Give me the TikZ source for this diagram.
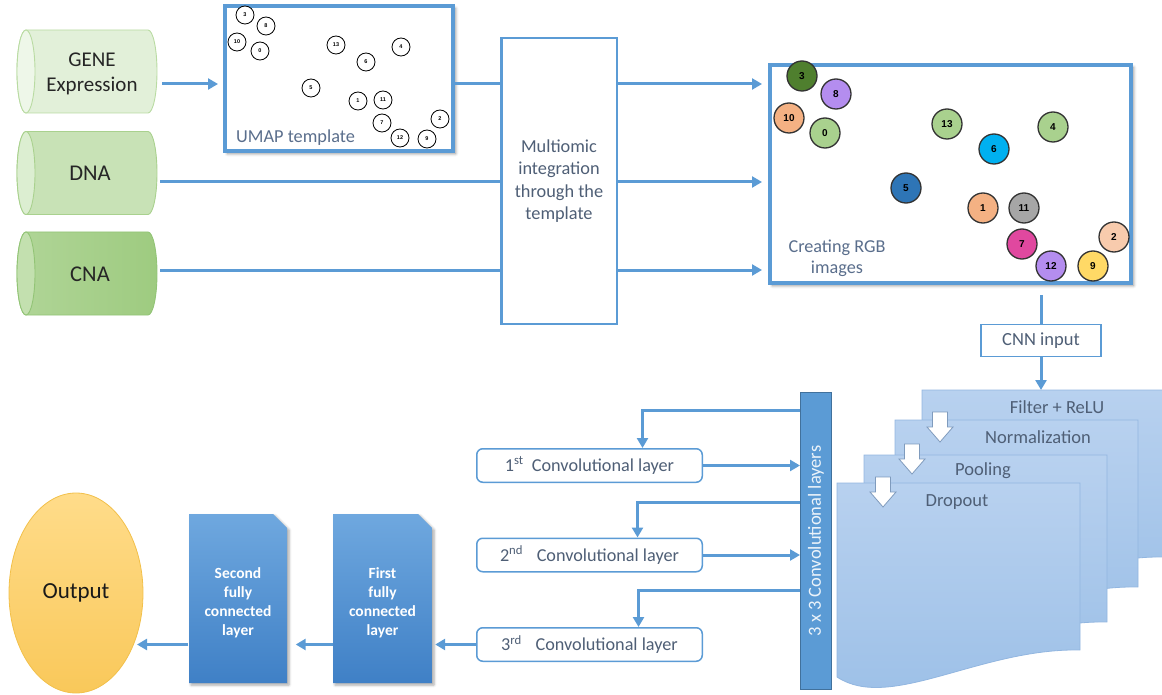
\documentclass[tikz,border=0pt]{standalone}
\usepackage{fontspec}
\setmainfont{Carlito}
\newfontfamily\numfont{Liberation Sans}
\usetikzlibrary{shapes.geometric,arrows.meta,shadows.blur,calc}

\definecolor{lineblue}{HTML}{5B9BD5}
\definecolor{barborder}{HTML}{41719C}
\definecolor{slate}{HTML}{4F5F76}
\definecolor{softslate}{HTML}{5A6E8C}
\definecolor{geneBody}{HTML}{E2F0D9}
\definecolor{geneCap}{HTML}{EEF7E9}
\definecolor{geneEdge}{HTML}{B9DBA2}
\definecolor{dnaBody}{HTML}{C8E2B6}
\definecolor{dnaCap}{HTML}{DCEED1}
\definecolor{dnaEdge}{HTML}{A9D18E}
\definecolor{cnaBodyL}{HTML}{B0D597}
\definecolor{cnaBodyR}{HTML}{9ECB80}
\definecolor{cnaCap}{HTML}{C3E0AF}
\definecolor{cnaEdge}{HTML}{92C476}
\definecolor{sheetTop}{HTML}{B8D1EF}
\definecolor{sheetBot}{HTML}{9BBFE7}
\definecolor{sheetEdge}{HTML}{92B6E0}
\definecolor{arrowEdge}{HTML}{7F9BBD}
\definecolor{fcTop}{HTML}{6FA8DF}
\definecolor{fcBot}{HTML}{3F80C6}
\definecolor{outTop}{HTML}{FFDC8A}
\definecolor{outBot}{HTML}{F9C85A}
\definecolor{outEdge}{HTML}{F2C04A}
\definecolor{dotEdge}{HTML}{333333}
\definecolor{dkgreen}{HTML}{4F7F2E}
\definecolor{lav}{HTML}{B48DEF}
\definecolor{peach}{HTML}{F4B183}
\definecolor{lgreen}{HTML}{A9D18E}
\definecolor{cyanb}{HTML}{00B0F0}
\definecolor{dblue}{HTML}{2E75B6}
\definecolor{midgray}{HTML}{A6A6A6}
\definecolor{magentab}{HTML}{E0489F}
\definecolor{yellowb}{HTML}{FFD966}
\definecolor{lpeach}{HTML}{F8CBAD}

% horizontal can: #1 left x, #2 right x, #3 top y, #4 bottom y, #5 body style, #6 cap style
\newcommand\drawcan[6]{%
  \pgfmathsetmacro\canL{#1+9}\pgfmathsetmacro\canR{#2-9}%
  \pgfmathsetmacro\canM{(#3+#4)/2}\pgfmathsetmacro\canK{0.552*(#4-#3)/2}%
  \pgfmathsetmacro\canRad{(#4-#3)/2}%
  \path[#5] (\canL,#3) -- (\canR,#3)
    .. controls (\canR+4.97,#3) and (#2,\canM-\canK) .. (#2,\canM)
    .. controls (#2,\canM+\canK) and (\canR+4.97,#4) .. (\canR,#4)
    -- (\canL,#4)
    .. controls (\canL-4.97,#4) and (#1,\canM+\canK) .. (#1,\canM)
    .. controls (#1,\canM-\canK) and (\canL-4.97,#3) .. (\canL,#3) -- cycle;
  \path[#6] (\canL,\canM) ellipse [x radius=9, y radius=\canRad];
}

\begin{document}
\begin{tikzpicture}[x=1pt,y=-1pt,
  conn/.style={draw=lineblue, line width=3pt},
  arr/.style={conn, -{Triangle[length=10pt,width=11pt]}},
  frame/.style={draw=lineblue, line width=4pt, fill=white, inner sep=0pt,
    blur shadow={shadow xshift=2.5pt, shadow yshift=-2.5pt, shadow blur radius=3pt, shadow opacity=45}},
  plainbox/.style={draw=lineblue, fill=white, inner sep=0pt},
  cantext/.style={align=center, text=black!85, inner sep=0pt, minimum width=140pt, minimum height=83pt},
  umapdot/.style={circle, draw=black, line width=0.8pt, fill=white, minimum size=18pt, inner sep=0pt,
    font=\numfont\bfseries\fontsize{5.5}{6}\selectfont},
  rgbdot/.style={circle, draw=dotEdge, line width=1.3pt, minimum size=30pt, inner sep=0pt,
    font=\numfont\bfseries\fontsize{10}{12}\selectfont},
  convbox/.style={draw=lineblue, line width=1.5pt, rounded corners=6pt, fill=white,
    minimum width=225.5pt, minimum height=33.5pt, inner sep=0pt, text=slate,
    font=\fontsize{18.2}{21}\selectfont},
  sheet/.style={top color=sheetTop, bottom color=sheetBot, draw=sheetEdge, line width=0.8pt},
  sheettext/.style={text=slate, font=\fontsize{18.5}{21}\selectfont, inner sep=0pt},
  blockarrow/.style={fill=white, draw=arrowEdge, line width=0.8pt, line join=miter},
  fcshape/.style={top color=fcTop, bottom color=fcBot,
    blur shadow={shadow xshift=2pt, shadow yshift=-2pt, shadow blur radius=2.5pt, shadow opacity=35}},
  fctext/.style={align=center, text=white, inner sep=0pt, minimum width=99pt, minimum height=169pt,
    font=\bfseries\fontsize{15.5}{19}\selectfont}
]
\useasboundingbox (0,0) rectangle (1162,695);

% ---------- input data cans ----------
\drawcan{17}{157}{30}{113}{fill=geneBody, draw=geneEdge, line width=0.9pt}{fill=geneCap, draw=geneEdge, line width=0.9pt}
\drawcan{17}{157}{131.5}{214.5}{fill=dnaBody, draw=dnaEdge, line width=0.9pt}{fill=dnaCap, draw=dnaEdge, line width=0.9pt}
\drawcan{17}{157}{232}{315}{left color=cnaBodyL, right color=cnaBodyR, draw=cnaEdge, line width=0.9pt}{fill=cnaCap, draw=cnaEdge, line width=0.9pt}

\node[cantext, font=\fontsize{21}{25}\selectfont] (gene) at (92,73.5) {GENE\\Expression};
\node[cantext, font=\fontsize{22.5}{26}\selectfont] (dna) at (90,173) {DNA};
\node[cantext, font=\fontsize{22.5}{26}\selectfont] (cna) at (90,274) {CNA};

% ---------- UMAP template ----------
\node[frame, minimum width=228pt, minimum height=145pt] (umap) at (339,78.5) {};
\node[anchor=west, text=softslate, inner sep=0pt, font=\fontsize{18.3}{21}\selectfont] (umaplabel) at (236,138) {UMAP template};
\foreach \n/\px/\py in {3/245/15, 8/266/26, 10/237/42, 0/260/51, 13/336/45, 6/366/62, 4/401/47,
    5/311/88, 1/358/101, 11/383/100, 7/382/123, 12/400/138, 9/427/139, 2/440/119}
  \node[umapdot] (u\n) at (\px,\py) {\n};

% ---------- integration ----------
\node[plainbox, line width=2.5pt, minimum width=115.5pt, minimum height=285.5pt,
  align=center, text=slate, font=\fontsize{18.3}{22.5}\selectfont] (multi) at (559,181)
  {Multiomic\\integration\\through the\\template};

% ---------- RGB images ----------
\node[frame, minimum width=361pt, minimum height=218pt] (rgb) at (950.5,174) {};
\node[align=center, text=softslate, inner sep=0pt, font=\fontsize{18.2}{21}\selectfont] (rgblabel) at (837,258) {Creating RGB\\images};
\foreach \n/\px/\py/\c in {3/802/76/dkgreen, 8/836/94/lav, 10/789/118/peach, 0/825/133/lgreen,
    13/947/124/lgreen, 6/994/149/cyanb, 4/1053/127/lgreen, 5/906/188/dblue, 1/983/208/peach,
    11/1024/208/midgray, 7/1022/244/magentab, 12/1051/266/lav, 9/1093/266/yellowb, 2/1114/237/lpeach}
  \node[rgbdot, fill=\c] (g\n) at (\px,\py) {\n};

% ---------- upper connectors ----------
\coordinate (rowA) at (0,84);
\coordinate (rowB) at (0,182);
\coordinate (rowC) at (0,270);
\draw[arr, shorten >=5pt] (gene.east |- rowA) -- (umap.west |- rowA);
\draw[conn] (umap.east |- rowA) -- (multi.west |- rowA);
\draw[conn] (dna.east |- rowB) -- (multi.west |- rowB);
\draw[conn] (cna.east |- rowC) -- (multi.west |- rowC);
\foreach \r in {rowA,rowB,rowC}
  \draw[arr, shorten >=6pt] (multi.east |- \r) -- (rgb.west |- \r);

% ---------- CNN input ----------
\node[plainbox, line width=1.3pt, minimum width=120pt, minimum height=32pt, text=slate,
  font=\fontsize{18.5}{21}\selectfont] (cnn) at (1041,340.5) {CNN input};
\draw[conn, shorten <=10pt] (cnn.north |- rgb.south) -- (cnn.north);
\coordinate (filtertop) at (1041,390);
\draw[arr] (cnn.south) -- (filtertop);

% ---------- stacked processing sheets ----------
\foreach \sx/\sy in {922/390, 895/420, 864/455, 837/483}
  \path[sheet] (\sx,\sy) -- (\sx+243,\sy) -- (\sx+243,\sy+167)
    .. controls (\sx+143,\sy+165) and (\sx+53,\sy+229) .. (\sx,\sy+194) -- cycle;
\node[sheettext] (sfilter) at (1057,407) {Filter + ReLU};
\node[sheettext] (snorm) at (1038,437) {Normalization};
\node[sheettext] (spool) at (983,471) {Pooling};
\node[sheettext] (sdrop) at (957,502) {Dropout};
\foreach \cx/\ty in {940/412, 912/444, 883/477}
  \path[blockarrow] (\cx-7.5,\ty) -- (\cx+7.5,\ty) -- (\cx+7.5,\ty+15) -- (\cx+13,\ty+15)
    -- (\cx,\ty+30) -- (\cx-13,\ty+15) -- (\cx-7.5,\ty+15) -- cycle;

% ---------- convolution block ----------
\node[fill=lineblue, draw=barborder, line width=1pt, minimum width=31pt, minimum height=297pt, inner sep=0pt] (bar) at (816,541) {};
\node[rotate=90, text=white!88!lineblue, inner sep=0pt, font=\fontsize{18.5}{21}\selectfont] (bartext) at (bar.center) {3 x 3 Convolutional layers};

\node[convbox] (c1) at (589.5,465.5) {1\textsuperscript{st}\hspace{0.45em}Convolutional layer};
\node[convbox] (c2) at (589.5,555) {2\textsuperscript{nd}\hspace{0.75em}Convolutional layer};
\node[convbox] (c3) at (589.5,644.5) {3\textsuperscript{rd}\hspace{0.75em}Convolutional layer};

\coordinate (k1) at (0,410);
\coordinate (k2) at (0,502);
\coordinate (k3) at (0,590);
\draw[arr] (bar.west |- k1) -| ([xshift=53pt]c1.north);
\draw[arr] (bar.west |- k2) -| ([xshift=48pt]c2.north);
\draw[arr] (bar.west |- k3) -| ([xshift=49pt]c3.north);
\draw[arr] (c1.east) -- (bar.west |- c1.east);
\draw[arr] (c2.east) -- (bar.west |- c2.east);

% ---------- fully connected layers and output ----------
\path[fcshape] (333,514) -- (418,514) -- (432,528) -- (432,683) -- (333,683) -- cycle;
\path[fcshape] (189,514) -- (273,514) -- (287,528) -- (287,683) -- (189,683) -- cycle;
\node[fctext] (fc1) at (382.5,602.5) {First\\fully\\connected\\layer};
\node[fctext] (fc2) at (238,602.5) {Second\\fully\\connected\\layer};

\node[ellipse, minimum width=134pt, minimum height=200pt, inner sep=0pt, top color=outTop, bottom color=outBot,
  draw=outEdge, line width=0.8pt, text=black!90, font=\fontsize{23}{26}\selectfont] (output) at (76,593) {Output};

\coordinate (outhit) at ($(output.center)+(61,51.5)$);
\draw[arr, shorten >=3pt] (c3.west) -- (fc1.east |- c3.west);
\draw[arr, shorten >=8pt] (fc1.west |- c3.west) -- (fc2.east |- c3.west);
\draw[arr] (fc2.west |- c3.west) -- (outhit);
\end{tikzpicture}
\end{document}
